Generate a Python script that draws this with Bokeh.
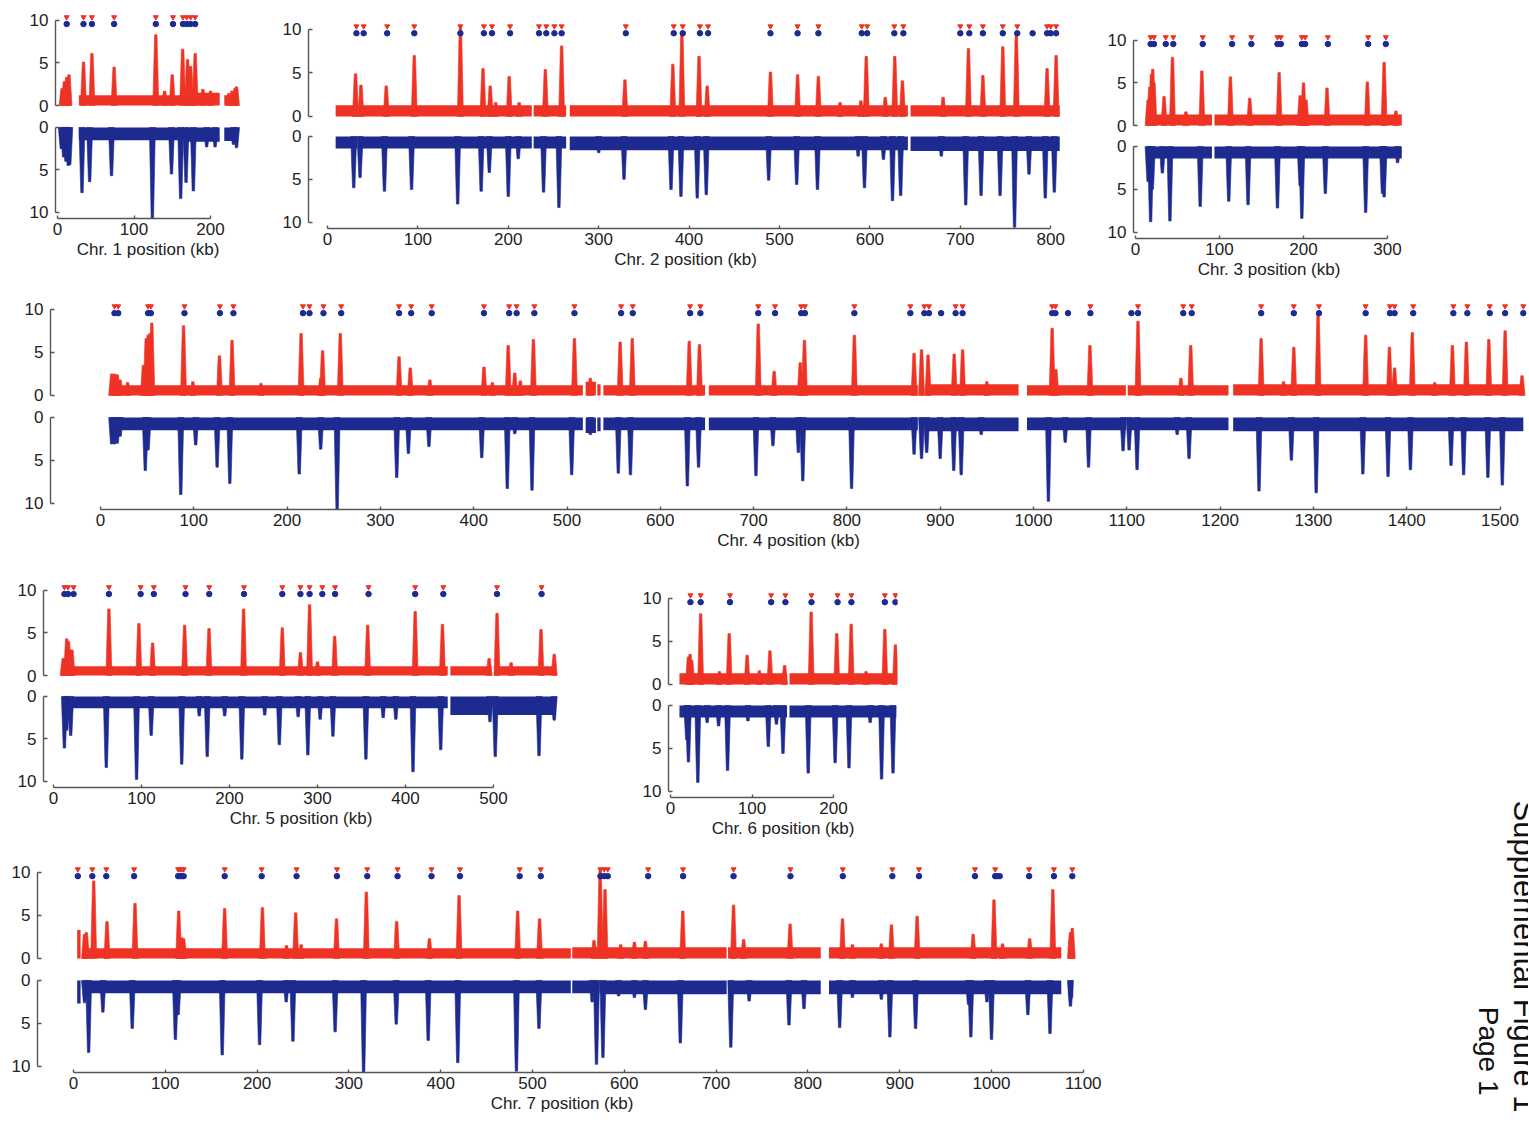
import math
from bokeh.plotting import figure
from bokeh.layouts import row, column
from bokeh.models import Range1d, FixedTicker, Spacer
from bokeh.embed import file_html
from bokeh.resources import INLINE
from bokeh.core.properties import value

RED = "#ee3325"
BLUE = "#1d2a8f"
INK = "#222222"
AXIS = "#555555"
FONT = "Liberation Sans"

# ---------------- data: positions in kb, signal in reads (x1000) ----------------
# Chr. 1
chr1_seg_start = [4, 28, 167, 218]
chr1_seg_end = [17.5, 165, 212, 235]
chr1_red_base = [1.3, 1.2, 1.5, 1.2]
chr1_blue_base = [1.6, 1.5, 1.7, 1.6]
chr1_red_kb = [6, 9, 12, 15, 34, 45, 74, 128.5, 140, 150, 163.6, 170, 174, 180, 190, 200, 224, 228, 232, 234]
chr1_red_h = [2.0, 2.8, 3.3, 3.6, 5.1, 6.1, 4.5, 8.3, 1.7, 3.6, 6.6, 5.4, 4.6, 6.1, 1.9, 1.7, 1.4, 1.7, 2.0, 2.2]
chr1_blue_kb = [5, 8, 11, 14, 16, 32, 42, 70.6, 124, 149, 161, 168, 177.6, 195, 206, 230, 234]
chr1_blue_d = [2.5, 3.5, 4.0, 4.5, 4.4, 7.7, 6.4, 5.7, 10.7, 5.5, 8.4, 6.5, 7.5, 2.3, 2.3, 2.0, 2.4]
chr1_red_calls = [12, 34, 45, 74, 128.5, 151, 164, 169, 174, 180]
chr1_blue_calls = [12, 34, 45, 74, 128.5, 151, 164, 169, 174, 180]

# Chr. 2
chr2_seg_start = [9, 34, 228, 268, 645]
chr2_seg_end = [33, 226, 264, 642, 810]
chr2_red_base = [1.3, 1.3, 1.3, 1.3, 1.3]
chr2_blue_base = [1.4, 1.4, 1.4, 1.6, 1.7]
chr2_red_kb = [31, 37, 65, 96, 147, 172, 180, 186, 201, 212, 241, 259, 329, 382, 392, 411, 420, 490, 520,
               543, 567, 590, 596, 617, 627.5, 636, 681, 709, 725, 747, 762, 796, 806]
chr2_red_h = [4.9, 3.6, 3.5, 7.0, 10.2, 5.5, 3.5, 1.6, 4.6, 1.6, 5.4, 8.1, 4.2, 6.0, 9.6, 6.9, 3.5, 5.1, 4.8,
              4.6, 1.6, 1.8, 6.9, 2.2, 6.9, 4.1, 2.2, 7.8, 4.7, 8.0, 9.5, 5.5, 7.0]
chr2_blue_kb = [29, 36, 63, 93, 144, 170, 179, 200, 211, 239, 256, 300, 328, 380, 391, 409, 419, 488, 519,
                542, 587, 594, 615, 625, 634, 679, 706, 723, 744, 760, 776, 794, 804]
chr2_blue_d = [6.0, 4.8, 6.4, 6.2, 7.9, 6.4, 4.2, 7.0, 2.6, 6.5, 8.3, 1.9, 5.0, 6.2, 7.0, 7.2, 6.8, 5.1, 5.6,
               6.2, 2.3, 6.0, 2.7, 7.5, 6.9, 2.3, 8.0, 6.9, 6.9, 10.6, 4.4, 7.2, 6.5]
chr2_red_calls = [32, 40, 66, 96, 147, 173, 182, 202, 234, 242, 251, 259, 330, 383, 393, 412, 421, 490, 520,
                  543, 591, 597, 627, 637, 700, 710, 725, 747, 763, 796, 800, 806]
chr2_blue_calls = [32, 40, 66, 96, 147, 173, 182, 202, 234, 242, 251, 259, 330, 383, 393, 412, 421, 490, 520,
                   543, 591, 597, 627, 637, 700, 710, 725, 747, 763, 780, 796, 800, 806]

# Chr. 3
chr3_seg_start = [14, 94]
chr3_seg_end = [91, 317]
chr3_red_base = [1.3, 1.3]
chr3_blue_base = [1.4, 1.4]
chr3_red_kb = [15, 17, 19, 20.5, 22, 34, 44, 60, 79, 113, 136, 171, 196, 200, 203, 228, 276, 296, 310]
chr3_red_h = [3.0, 4.5, 6.0, 6.6, 5.0, 3.4, 8.0, 1.6, 6.4, 5.7, 3.2, 6.2, 3.5, 5.0, 3.0, 4.4, 5.1, 7.4, 1.7]
chr3_blue_kb = [15, 18, 20, 32, 41, 77, 111, 134, 169, 196, 198, 226, 274, 294, 296, 312]
chr3_blue_d = [4.1, 8.8, 5.0, 3.1, 8.7, 7.0, 6.4, 6.8, 7.2, 4.6, 8.4, 5.5, 7.7, 5.5, 5.9, 1.9]
chr3_red_calls = [18, 22, 36, 45, 80, 115, 138, 169, 173, 198, 202, 229, 277, 298]
chr3_blue_calls = [18, 22, 36, 45, 80, 115, 138, 169, 173, 198, 202, 229, 277, 298]

# Chr. 4
chr4_seg_start = [11, 520, 532.5, 539, 652, 879, 884, 993, 1101, 1214]
chr4_seg_end = [517, 531, 536, 648, 876, 881, 984, 1099, 1209, 1525]
chr4_red_base = [1.2, 1.6, 1.3, 1.2, 1.2, 1.2, 1.3, 1.2, 1.2, 1.3]
chr4_blue_base = [1.5, 1.8, 1.6, 1.5, 1.5, 1.5, 1.6, 1.5, 1.5, 1.6]
chr4_red_kb = [12, 15, 18, 21, 29, 46, 49, 51, 53, 55, 89, 99, 127.5, 141, 172, 215, 236, 238, 257, 320, 332,
               353, 411, 420, 437, 444, 450, 464, 508, 525, 557, 570, 631, 642, 705, 722, 750, 754.5, 808, 872,
               880, 887, 915, 924, 950, 1020, 1024, 1060.5, 1112, 1158, 1168.5, 1244, 1268, 1279, 1305, 1356,
               1381.5, 1387, 1406, 1430, 1449, 1464, 1488, 1505.5, 1523.6]
chr4_red_h = [2.5, 2.5, 2.4, 1.8, 1.5, 3.5, 6.6, 7.0, 7.2, 8.4, 8.1, 1.6, 4.6, 6.4, 1.4, 7.2, 2.0, 5.2, 7.2, 4.5,
              3.2, 1.8, 3.3, 1.5, 5.8, 2.6, 1.7, 6.5, 6.6, 2.0, 6.2, 6.6, 6.3, 5.9, 8.3, 2.8, 3.8, 6.4, 7.0,
              4.9, 5.3, 4.7, 4.8, 5.3, 1.6, 7.8, 3.0, 5.8, 8.6, 2.0, 5.8, 6.6, 1.6, 5.6, 9.6, 7.0, 5.6, 3.2,
              7.3, 1.5, 5.8, 6.2, 6.5, 7.5, 2.3]
chr4_blue_kb = [12, 15, 18, 21, 48, 51, 86, 102, 125, 138.6, 213, 236, 253.6, 317.5, 330, 352, 408.6, 436, 444,
                462.5, 505, 525, 555, 568, 629, 641, 702.5, 720.7, 748, 752.7, 805, 872, 880, 885.5, 900, 914.5,
                922.5, 944, 1016, 1034, 1059, 1096, 1102.5, 1111, 1154, 1166.7, 1241.7, 1276.4, 1303, 1353,
                1380, 1404, 1447.5, 1461, 1487, 1502.5]
chr4_blue_d = [3.1, 3.1, 3.0, 2.2, 6.2, 3.8, 9.0, 3.2, 5.8, 7.7, 6.6, 3.7, 10.8, 7.0, 4.2, 3.4, 4.7, 8.3, 1.9,
               8.5, 6.7, 2.0, 6.5, 6.7, 8.0, 5.8, 6.8, 3.3, 4.1, 7.4, 8.3, 4.3, 4.8, 4.1, 4.8, 6.2, 6.7, 2.0,
               9.8, 2.9, 5.8, 3.9, 3.8, 6.1, 2.0, 4.8, 8.6, 5.0, 8.8, 6.6, 6.9, 6.1, 5.6, 6.7, 7.0, 7.9]
chr4_red_calls = [15, 19, 51, 54, 90, 128, 142.5, 217, 224, 239, 258, 320, 333, 355, 411, 438, 446, 465, 508,
                  558, 570.5, 632, 643, 705, 723, 751, 755, 808, 868, 883, 888, 916.5, 924, 1020, 1023.5, 1061,
                  1112, 1160.5, 1169.6, 1244, 1279, 1306, 1356, 1382, 1387, 1407, 1450, 1465, 1489, 1505.5, 1525]
chr4_blue_calls = [15, 19, 51, 54, 90, 128, 142.5, 217, 224, 239, 258, 320, 333, 355, 411, 438, 446, 465, 508,
                   558, 570.5, 632, 643, 705, 723, 751, 755, 808, 868, 883, 888, 901, 916.5, 924, 1020, 1023.5,
                   1037, 1061, 1105, 1112, 1160.5, 1169.6, 1244, 1279, 1306, 1356, 1382, 1387, 1407, 1450,
                   1465, 1489, 1505.5, 1525]

# Chr. 5
chr5_seg_start = [10, 451, 501]
chr5_seg_end = [448, 497.5, 571]
chr5_red_base = [1.1, 1.1, 1.1]
chr5_blue_base = [1.4, 2.2, 2.2]
chr5_red_kb = [11, 13, 15, 17, 19, 21, 63, 97, 112.6, 149, 176.7, 216, 260, 280.6, 291, 300, 319.5, 357, 411,
               442, 495, 504, 520, 554, 569]
chr5_red_h = [2.0, 2.0, 4.3, 4.0, 3.0, 3.0, 7.8, 6.1, 3.8, 5.9, 5.5, 7.8, 5.6, 2.7, 8.3, 1.6, 4.6, 5.9, 7.5,
              6.0, 2.0, 7.3, 1.5, 5.4, 2.5]
chr5_blue_kb = [12.4, 15, 19.5, 60, 94.4, 111, 145.7, 165.6, 174.7, 194.5, 214, 240, 256.6, 278, 289, 303,
                317.5, 355, 374.6, 389, 408.5, 440, 496, 502, 551.7, 569]
chr5_blue_d = [6.1, 4.0, 4.6, 8.4, 9.8, 4.6, 8.0, 2.3, 7.1, 2.3, 7.4, 2.2, 5.7, 2.4, 6.9, 2.7, 4.7, 7.4, 2.5,
               2.7, 8.9, 6.3, 3.0, 7.1, 7.0, 2.8]
chr5_red_calls = [12.4, 16.5, 22.8, 63, 99, 114, 150, 177, 216.5, 260, 280.6, 291, 305.5, 320, 358, 411, 443,
                  504, 554.6]
chr5_blue_calls = [12.4, 16.5, 22.8, 63, 99, 114, 150, 177, 216.5, 260, 280.6, 291, 305.5, 320, 358, 411, 443,
                   504, 554.6]

# Chr. 6
chr6_seg_start = [11, 146]
chr6_seg_end = [143, 277]
chr6_red_base = [1.3, 1.3]
chr6_blue_base = [1.4, 1.4]
chr6_red_kb = [22, 24, 26, 37, 60, 72, 94, 109, 122, 140, 172.6, 204, 221.7, 240, 263, 276]
chr6_red_h = [3.2, 3.5, 2.8, 8.2, 1.5, 5.9, 3.4, 1.6, 3.9, 2.2, 8.4, 5.9, 7.0, 1.5, 6.4, 4.6]
chr6_blue_kb = [20, 22, 33.5, 45, 59, 70, 95, 120, 130, 138, 169, 202, 219, 245, 259, 273]
chr6_blue_d = [4.0, 6.6, 9.0, 2.0, 2.4, 7.6, 1.8, 4.8, 2.2, 5.6, 7.9, 6.7, 7.3, 2.0, 8.6, 7.9]
chr6_red_calls = [24.5, 37, 73, 123.5, 141, 173, 205, 222, 263, 276]
chr6_blue_calls = [24.5, 37, 73, 123.5, 141, 173, 205, 222, 263, 276]

# Chr. 7
chr7_seg_start = [4, 10.4, 543.3, 573, 577, 713, 823, 1084]
chr7_seg_end = [7.7, 541.7, 571.7, 576, 711.5, 814, 1076, 1089]
chr7_red_base = [3.3, 1.2, 1.3, 1.3, 1.3, 1.3, 1.3, 2.0]
chr7_blue_base = [2.7, 1.5, 1.5, 1.5, 1.6, 1.6, 1.6, 2.0]
chr7_red_kb = [12, 14, 22, 36.5, 67, 114.6, 118, 120, 164.6, 205.8, 232, 242, 248, 286.5, 319, 352, 387.7, 420,
               483.8, 507.7, 567, 573.7, 579, 596, 611, 623, 663.7, 719, 730, 780.6, 837.7, 848.5, 880, 891,
               919, 980, 1002.7, 1012, 1041.6, 1066.8, 1086, 1088]
chr7_red_h = [2.8, 3.0, 9.0, 4.3, 6.4, 5.5, 2.4, 2.3, 5.8, 5.9, 1.5, 5.3, 1.6, 4.6, 7.7, 4.3, 2.3, 7.3, 5.5,
              4.6, 2.1, 10.4, 8.0, 1.6, 1.9, 2.0, 5.5, 6.2, 2.2, 4.0, 4.6, 1.6, 1.7, 3.9, 4.9, 2.8, 6.8, 1.7,
              2.3, 8.0, 3.0, 3.5]
chr7_blue_kb = [12, 16.5, 32, 64, 111, 114, 162, 202.7, 231.7, 239, 285, 316, 351.6, 386.4, 418.6, 482.5, 507,
                565, 569.7, 576.7, 593.8, 611, 623, 661, 716, 736, 779.4, 795.7, 834.6, 848.5, 880, 889.3,
                917.3, 975, 977.5, 995, 1000, 1039.6, 1063.7, 1086]
chr7_blue_d = [2.6, 8.4, 3.7, 5.6, 6.9, 4.0, 8.7, 7.5, 2.5, 7.1, 6.0, 11.0, 5.1, 7.0, 9.6, 10.6, 5.6, 2.5, 9.8,
               9.0, 1.8, 2.0, 3.4, 7.3, 7.8, 2.4, 5.2, 3.3, 5.5, 2.0, 2.2, 6.6, 5.6, 2.8, 6.6, 2.5, 6.9, 4.0,
               6.2, 3.0]
chr7_red_calls = [4.7, 20.5, 35.7, 66, 114, 116, 118, 120, 164.7, 205, 243, 287, 320, 353, 390, 421, 486, 509,
                  574, 578, 582, 626, 664, 719, 781, 838, 892, 921, 982, 1004, 1041, 1068, 1088]
chr7_blue_calls = [4.7, 20.5, 35.7, 66, 114, 116, 118, 120, 164.7, 205, 243, 287, 320, 353, 390, 421, 486, 509,
                   574, 578, 582, 626, 664, 719, 781, 838, 892, 921, 982, 1004, 1006, 1009, 1041, 1068, 1088]

chrom_names = ["Chr. 1", "Chr. 2", "Chr. 3", "Chr. 4", "Chr. 5", "Chr. 6", "Chr. 7"]
axis_max_kb = [200, 800, 300, 1500, 500, 200, 1100]

g = globals()
CHROMS = []
for i, name in enumerate(chrom_names, start=1):
    CHROMS.append(dict(
        name=name, max_tick=axis_max_kb[i - 1],
        seg_start=g[f"chr{i}_seg_start"], seg_end=g[f"chr{i}_seg_end"],
        red_base=g[f"chr{i}_red_base"], blue_base=g[f"chr{i}_blue_base"],
        red_kb=g[f"chr{i}_red_kb"], red_h=g[f"chr{i}_red_h"],
        blue_kb=g[f"chr{i}_blue_kb"], blue_d=g[f"chr{i}_blue_d"],
        red_calls=g[f"chr{i}_red_calls"], blue_calls=g[f"chr{i}_blue_calls"],
    ))

# ---------------- page geometry (pixels) ----------------
GEOM = [
    dict(axis=55, kb0=57, ppk=0.765, red10=20, red0=105, blue0=127, blue10=212, right=240, rb=10, dy=0),
    dict(axis=308, kb0=327, ppk=0.904, red10=25, red0=112, blue0=132, blue10=218, right=1062, rb=10, dy=4),
    dict(axis=1133, kb0=1135, ppk=0.84, red10=40, red0=125, blue0=146, blue10=232, right=1404, rb=10, dy=0),
    dict(axis=50, kb0=100, ppk=0.933, red10=302, red0=388, blue0=410, blue10=496, right=1526, rb=1, dy=7),
    dict(axis=43, kb0=53, ppk=0.88, red10=587, red0=672, blue0=693, blue10=778, right=558, rb=10, dy=3),
    dict(axis=668, kb0=670, ppk=0.815, red10=598, red0=684, blue0=705, blue10=791, right=897, rb=10, dy=0),
    dict(axis=37, kb0=73, ppk=0.918, red10=869, red0=955, blue0=977, blue10=1063, right=1086, rb=24, dy=3),
]
ROWS = [((0, 290), [0, 1, 2]), ((290, 568), [3]), ((568, 850), [4, 5]), ((850, 1122), [6])]
YB = 34                      # left border holding the y tick labels
TOPB = 8                     # room above the red frame for the "10" label
RED_LO, RED_HI = -0.35, 10.9
BLUE_LO, BLUE_HI = -0.35, 10.75
RED_CALL_Y, BLUE_CALL_Y = 10.35, 9.55
TICK_FS = "17px"


def spikes(kb, h, ppk):
    bw, tw = 3.0 / ppk, 1.2 / ppk
    xs = [[k - bw, k - tw, k + tw, k + bw] for k in kb]
    ys = [[0, v, v, 0] for v in h]
    return xs, ys


def style_y(ax):
    ax.ticker = FixedTicker(ticks=[0, 5, 10])
    ax.bounds = (0, 10)
    ax.major_tick_in = 4
    ax.major_tick_out = 0
    ax.minor_tick_line_color = None
    ax.axis_line_color = AXIS
    ax.axis_line_width = 1.4
    ax.major_tick_line_color = AXIS
    ax.major_tick_line_width = 1.4
    ax.major_label_text_font = FONT
    ax.major_label_text_font_size = TICK_FS
    ax.major_label_text_color = INK
    ax.major_label_standoff = 7


def base_fig(**kw):
    p = figure(toolbar_location=None, output_backend="svg", outline_line_color=None,
               background_fill_color="white", border_fill_color="white", **kw)
    p.grid.visible = False
    return p


def panel(c, geo, row_top, row_bottom):
    dy = geo["dy"]
    ur = (geo["red0"] - geo["red10"]) / 10
    ub = (geo["blue10"] - geo["blue0"]) / 10
    r_top = round(geo["red0"] + dy - RED_HI * ur)
    r_bot = round(geo["red0"] + dy - RED_LO * ur)
    b_top = round(geo["blue0"] + dy + BLUE_LO * ub)
    b_bot = round(geo["blue0"] + dy + BLUE_HI * ub)
    gap = b_top - r_bot
    gap_r = gap // 2
    ppk = geo["ppk"]
    fw = round(geo["right"] - geo["axis"])
    x0 = -(geo["kb0"] - geo["axis"]) / ppk
    xr = Range1d(x0, x0 + fw / ppk)

    red = base_fig(frame_width=fw, frame_height=r_bot - r_top, x_range=xr,
                   y_range=Range1d(RED_LO, RED_HI), x_axis_location=None,
                   min_border_left=YB, min_border_right=geo["rb"], min_border_top=TOPB,
                   min_border_bottom=gap_r)
    red.quad(left=c["seg_start"], right=c["seg_end"], bottom=0, top=c["red_base"],
             fill_color=RED, line_color=None)
    xs, ys = spikes(c["red_kb"], c["red_h"], ppk)
    red.patches(xs, ys, fill_color=RED, line_color=RED, line_width=0.6)
    red.scatter(c["red_calls"], [RED_CALL_Y] * len(c["red_calls"]), marker="inverted_triangle",
                size=5, color=RED)
    red.scatter(c["blue_calls"], [BLUE_CALL_Y] * len(c["blue_calls"]), marker="circle",
                size=5.5, color=BLUE)
    style_y(red.yaxis[0])

    blue = base_fig(frame_width=fw, frame_height=b_bot - b_top, x_range=xr,
                    y_range=Range1d(BLUE_HI, BLUE_LO),
                    min_border_left=YB, min_border_right=geo["rb"], min_border_top=gap - gap_r,
                    min_border_bottom=row_bottom - b_bot)
    blue.quad(left=c["seg_start"], right=c["seg_end"], bottom=0, top=c["blue_base"],
              fill_color=BLUE, line_color=None)
    xs, ys = spikes(c["blue_kb"], c["blue_d"], ppk)
    blue.patches(xs, ys, fill_color=BLUE, line_color=BLUE, line_width=0.6)
    style_y(blue.yaxis[0])

    xa = blue.xaxis[0]
    xa.ticker = FixedTicker(ticks=list(range(0, c["max_tick"] + 1, 100)))
    xa.bounds = (0, c["max_tick"])
    xa.major_tick_in = 3
    xa.major_tick_out = 0
    xa.minor_tick_line_color = None
    xa.axis_line_color = AXIS
    xa.axis_line_width = 1.4
    xa.major_tick_line_color = AXIS
    xa.major_tick_line_width = 1.4
    xa.major_label_text_font = FONT
    xa.major_label_text_font_size = TICK_FS
    xa.major_label_text_color = INK
    xa.major_label_standoff = 4
    xa.axis_label = f"{c['name']} position (kb)"
    xa.axis_label_text_font = FONT
    xa.axis_label_text_font_size = TICK_FS
    xa.axis_label_text_font_style = "normal"
    xa.axis_label_text_color = INK
    xa.axis_label_standoff = 2

    parts = []
    lead = r_top - TOPB - row_top
    if lead > 0:
        parts.append(Spacer(width=YB + fw + geo["rb"], height=lead))
    parts += [red, blue]
    left = geo["axis"] - YB
    right = geo["axis"] + fw + geo["rb"]
    return column(*parts), left, right


rows = []
for (top, bottom), idx in ROWS:
    items, cursor = [], 0
    for i in idx:
        col, left, right = panel(CHROMS[i], GEOM[i], top, bottom)
        if left > cursor:
            items.append(Spacer(width=left - cursor, height=bottom - top))
        items.append(col)
        cursor = right
    rows.append((items, cursor, top, bottom))

LOWER_W = 1110
PAGE_W = 1528

row_a = row(*rows[0][0])
row_b = row(*rows[1][0])
c_items, c_right, c_top, c_bot = rows[2]
if c_right < LOWER_W:
    c_items.append(Spacer(width=LOWER_W - c_right, height=c_bot - c_top))
row_c = row(*c_items)
d_items, d_right, d_top, d_bot = rows[3]
if d_right < LOWER_W:
    d_items.append(Spacer(width=LOWER_W - d_right, height=d_bot - d_top))
row_d = row(*d_items)

# page caption running down the right-hand margin
side_top, side_bot = rows[2][2], rows[3][3]
side = base_fig(width=PAGE_W - LOWER_W, height=side_bot - side_top,
                x_range=Range1d(LOWER_W, PAGE_W), y_range=Range1d(-side_bot, -side_top),
                x_axis_location=None, y_axis_location=None, min_border=0)
side.text(x=[1524], y=[-1112], text=["Supplemental Figure 1"],
          angle=-math.pi / 2, text_align="right", text_baseline="alphabetic",
          text_font=value(FONT), text_font_size="31px", text_color="#111111")
side.text(x=[1488], y=[-1095], text=["Page 1"],
          angle=-math.pi / 2, text_align="right", text_baseline="alphabetic",
          text_font=value(FONT), text_font_size="28px", text_color="#111111")

layout = column(row_a, row_b, row(column(row_c, row_d), side))

open("out.html", "w").write(file_html(layout, INLINE, title="ChIP profiles"))
